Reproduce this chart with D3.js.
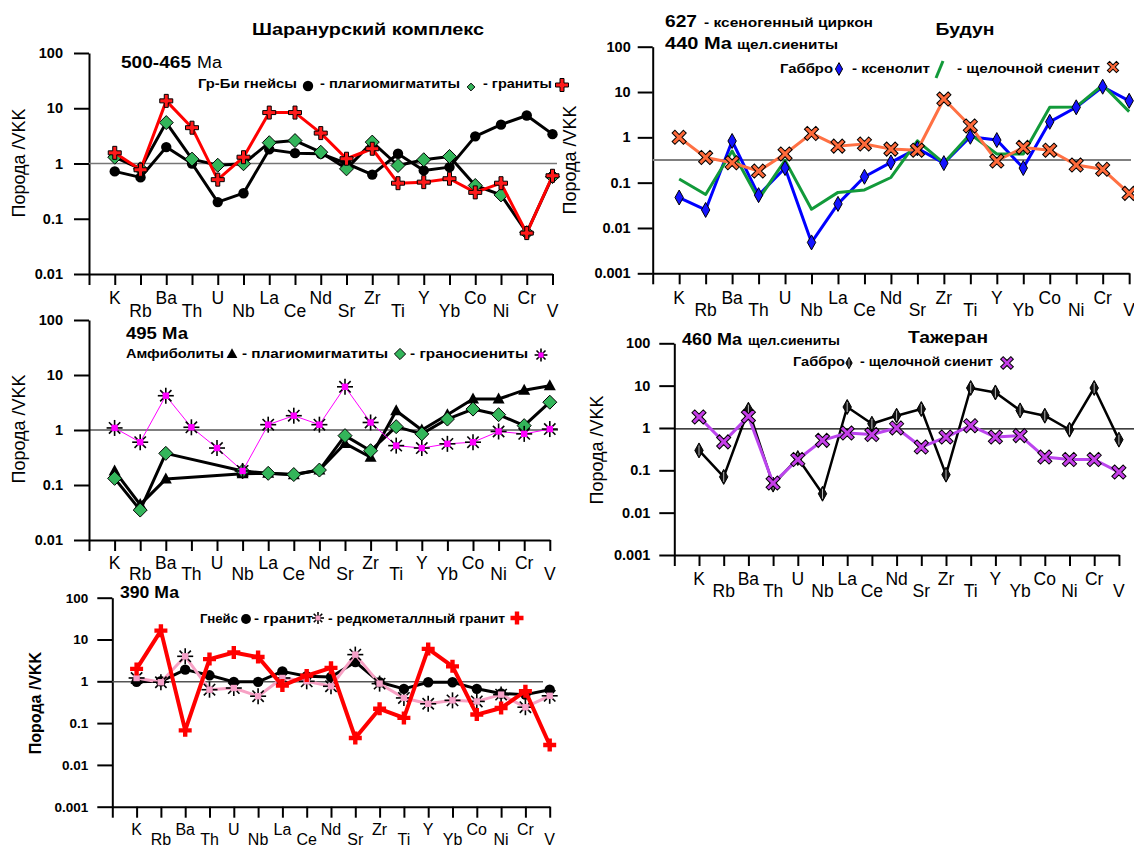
<!DOCTYPE html>
<html>
<head>
<meta charset="utf-8">
<script src="https://cdn.jsdelivr.net/npm/d3@7"></script>
<style>
  body { margin: 0; background: #fff; }
  svg { display: block; font-family: "Liberation Sans", Arial, sans-serif; }
</style>
</head>
<body>
<svg id="chart" width="1134" height="848"></svg>
<script>
// Spider diagrams normalised to upper continental crust (Порода / VKK)
const elements = ["K","Rb","Ba","Th","U","Nb","La","Ce","Nd","Sr","Zr","Ti","Y","Yb","Co","Ni","Cr","V"];
const ticks2 = [0.01, 0.1, 1, 10, 100];
const ticks3 = [0.001, 0.01, 0.1, 1, 10, 100];

// Шаранурский комплекс, 500-465 Ma
const sharGneiss   = [0.72,0.56,1.98,1.0,0.2,0.29,1.8,1.54,1.5,1.0,0.63,1.5,0.75,0.86,3.1,5.05,7.4,3.4];
const sharMigm     = [1.3,0.8,5.5,1.2,0.93,0.99,2.38,2.6,1.6,0.8,2.44,0.92,1.17,1.34,0.4,0.27,0.056,0.58];
const sharGranite  = [1.56,0.77,13.6,4.45,0.51,1.3,8.35,8.35,3.55,1.22,1.85,0.44,0.46,0.53,0.3,0.44,0.055,0.6];

// Будун, 627 / 440 Ma
const budunGabbro   = [0.047,0.025,0.83,0.053,0.21,0.0048,0.034,0.135,0.28,0.57,0.27,1.03,0.87,0.21,2.2,4.6,13.1,6.4];
const budunXenolith = [0.12,0.055,0.5,0.043,0.31,0.026,0.061,0.069,0.13,0.84,0.27,1.18,0.43,0.43,4.6,4.7,14.3,3.7];
const budunSyenite  = [1.0,0.36,0.275,0.18,0.43,1.22,0.64,0.71,0.55,0.52,7.0,1.78,0.30,0.6,0.52,0.245,0.197,0.058];

// 495 Ma (Th, U not determined for the first two groups)
const amphibolite  = [0.18,0.044,0.128,null,null,0.16,0.163,0.154,0.187,0.57,0.32,2.24,1.0,1.9,3.66,3.66,5.3,6.4];
const migm495      = [0.132,0.035,0.376,null,null,0.18,0.163,0.155,0.187,0.79,0.42,1.15,0.85,1.58,2.4,1.9,1.2,3.2];
const granosyenite = [1.09,0.6,4.2,1.12,0.47,0.18,1.25,1.82,1.25,6.1,1.37,0.52,0.47,0.56,0.6,0.94,0.85,1.04];

// Тажеран, 460 Ma
const tazhGabbro  = [0.295,0.07,2.7,0.046,0.195,0.028,3.13,1.26,1.95,2.8,0.079,8.8,6.9,2.6,1.95,0.91,8.8,0.53];
const tazhSyenite = [1.82,0.47,1.88,0.05,0.18,0.51,0.76,0.7,1.0,0.355,0.61,1.13,0.61,0.66,0.206,0.18,0.18,0.091];

// 390 Ma
const gneiss390    = [0.97,1.0,1.9,1.39,0.97,0.97,1.73,1.32,1.27,2.9,0.95,0.66,0.95,0.95,0.66,0.51,0.48,0.63];
const granite390   = [1.2,0.95,3.96,0.63,0.69,0.44,1.2,1.0,0.76,4.35,0.88,0.4,0.29,0.35,0.33,0.48,0.24,0.45];
const rareMetal390 = [1.98,16.3,0.067,3.4,4.9,3.8,0.79,1.37,2.1,0.044,0.22,0.133,5.96,2.28,0.16,0.23,0.58,0.03];

const svg = d3.select("#chart");

// ---------- marker shapes ----------
function plusPath(a, t) {
  return `M${-t},${-a}H${t}V${-t}H${a}V${t}H${t}V${a}H${-t}V${t}H${-a}V${-t}H${-t}Z`;
}
function diamondPath(w, h) { return `M0,${-h}L${w},0L0,${h}L${-w},0Z`; }

function drawMarker(g, type, x, y, k = 1) {
  const m = g.append("g").attr("transform", `translate(${x},${y})`);
  switch (type) {
    case "circle":
      m.append("circle").attr("r", 5.2 * k).attr("fill", "#000");
      break;
    case "greenDiamond":
      m.append("path").attr("d", diamondPath(7 * k, 7 * k))
        .attr("fill", "#33b55a").attr("stroke", "#000").attr("stroke-width", 1);
      break;
    case "redPlus":
      m.append("path").attr("d", plusPath(6.5 * k, 2 * k))
        .attr("fill", "#ff1a1a").attr("stroke", "#000").attr("stroke-width", 1);
      break;
    case "redPlusBold":
      m.append("path").attr("d", plusPath(6.5 * k, 2.2 * k)).attr("fill", "#ff0000");
      break;
    case "blueDiamond":
      m.append("path").attr("d", diamondPath(4.2 * k, 7.5 * k))
        .attr("fill", "#1414ff").attr("stroke", "#000").attr("stroke-width", 1);
      break;
    case "blackDiamond":
      m.append("path").attr("d", diamondPath(4.2 * k, 7.5 * k))
        .attr("fill", "#111").attr("stroke", "#000").attr("stroke-width", 1);
      m.append("path").attr("d", `M0,${-5 * k}V${5 * k}`)
        .attr("stroke", "#bbb").attr("stroke-width", 1);
      break;
    case "orangeX":
      m.append("path").attr("d", plusPath(8 * k, 2 * k)).attr("transform", "rotate(45)")
        .attr("fill", "#ff6a3a").attr("stroke", "#000").attr("stroke-width", 1);
      break;
    case "purpleX":
      m.append("path").attr("d", plusPath(8 * k, 2 * k)).attr("transform", "rotate(45)")
        .attr("fill", "#c53ee8").attr("stroke", "#000").attr("stroke-width", 1);
      break;
    case "triangle":
      m.append("path").attr("d", `M0,${-6.5 * k}L${6 * k},${4.5 * k}L${-6 * k},${4.5 * k}Z`).attr("fill", "#000");
      break;
    case "starMagenta":
    case "starPink": {
      const r = 8 * k;
      for (let i = 0; i < 4; i++) {
        const ang = i * Math.PI / 4;
        m.append("line")
          .attr("x1", -r * Math.cos(ang)).attr("y1", -r * Math.sin(ang))
          .attr("x2", r * Math.cos(ang)).attr("y2", r * Math.sin(ang))
          .attr("stroke", "#000").attr("stroke-width", 1.6);
      }
      const s = 3.2 * k;
      m.append("rect").attr("x", -s).attr("y", -s).attr("width", 2 * s).attr("height", 2 * s)
        .attr("fill", type === "starMagenta" ? "#ff00ff" : "#f5a0c8");
      break;
    }
  }
}

// ---------- one diagram ----------
function drawPanel(p) {
  const g = svg.append("g");
  const x = d3.scaleLinear().domain([-1, elements.length - 1])
    .range([p.axisX, p.axisX + p.step * elements.length]);
  const y = d3.scaleLog().domain([p.ticks[0], 100]).range([p.yBottom, p.yTop]);

  // axes
  const yAxis = d3.axisLeft(y).tickValues(p.ticks).tickSize(15).tickSizeOuter(0)
    .tickPadding(p.tickPad).tickFormat(d => String(d));
  const ya = g.append("g").attr("transform", `translate(${p.axisX},0)`).call(yAxis);
  ya.selectAll("text").attr("font-size", p.tickFont).attr("font-weight", "bold")
    .attr("font-family", "Liberation Sans, Arial, sans-serif").attr("fill", "#000");
  ya.selectAll("line,path").attr("stroke", "#000").attr("stroke-width", 2);

  const xAxis = d3.axisBottom(x).tickValues(d3.range(-1, elements.length))
    .tickSize(11).tickSizeOuter(0).tickFormat("");
  const xa = g.append("g").attr("transform", `translate(0,${p.yBottom})`).call(xAxis);
  xa.selectAll("line,path").attr("stroke", "#000").attr("stroke-width", 2);

  // element names, alternately staggered
  g.append("g").selectAll("text").data(elements).join("text")
    .attr("x", (d, i) => x(i))
    .attr("y", (d, i) => p.yBottom + (i % 2 === 0 ? p.highOff : p.lowOff))
    .attr("text-anchor", "middle").attr("font-size", p.elemFont).text(d => d);

  // reference level
  g.append("line")
    .attr("x1", p.axisX).attr("x2", p.refEnd)
    .attr("y1", y(p.ref)).attr("y2", y(p.ref))
    .attr("stroke", p.refColor).attr("stroke-width", p.refWidth);

  // axis title
  g.append("text")
    .attr("transform", `translate(${p.labelX},${p.labelY}) rotate(-90)`)
    .attr("text-anchor", "middle").attr("font-size", p.labelFont)
    .attr("font-weight", p.labelBold ? "bold" : "normal")
    .text("Порода /VKK");

  // series
  p.series.forEach(s => {
    const pts = s.values.map((v, i) => [i, v]).filter(d => d[1] != null);
    const line = d3.line().x(d => x(d[0])).y(d => y(d[1]));
    g.append("path").datum(pts).attr("d", line)
      .attr("fill", "none").attr("stroke", s.color).attr("stroke-width", s.width)
      .attr("stroke-linejoin", "round");
    if (s.marker) {
      const mg = g.append("g");
      pts.forEach(d => drawMarker(mg, s.marker, x(d[0]), y(d[1])));
    }
  });
  return g;
}

// caption text set to a given width (captions are drawn slightly wide)
function txt(x, y, t, size, bold, width, anchor) {
  return svg.append("text")
    .attr("x", x).attr("y", y)
    .attr("font-size", size)
    .attr("font-weight", bold ? "bold" : "normal")
    .attr("textLength", width).attr("lengthAdjust", "spacingAndGlyphs")
    .attr("text-anchor", anchor || "start").text(t);
}
const SMALL = 13.5;

// ---------- panel 1: Шаранурский комплекс ----------
drawPanel({
  axisX: 89, step: 25.75, yTop: 53, yBottom: 274, ticks: ticks2, tickPad: 11, tickFont: 14.5,
  elemFont: 17.5, highOff: 30, lowOff: 43, ref: 1, refEnd: 557, refColor: "#777", refWidth: 1.5,
  labelX: 25, labelY: 163, labelFont: 18, labelBold: false,
  series: [
    { values: sharGneiss, color: "#000", width: 3, marker: "circle" },
    { values: sharMigm, color: "#000", width: 3, marker: "greenDiamond" },
    { values: sharGranite, color: "#ff0000", width: 3, marker: "redPlus" }
  ]
});
txt(368, 35, "Шаранурский комплекс", 17, true, 232, "middle");
txt(121, 68, "500-465", 16, true, 70);
txt(197, 68, "Ма", 16, false, 25);
txt(198, 88, "Гр-Би гнейсы", SMALL, true, 99);
drawMarker(svg, "circle", 308, 86);
txt(320, 88, "- плагиомигматиты", SMALL, true, 140);
drawMarker(svg, "greenDiamond", 471, 87, 0.55);
txt(483, 88, "- граниты", SMALL, true, 69);
drawMarker(svg, "redPlus", 562, 85);

// ---------- panel 2: Будун ----------
drawPanel({
  axisX: 652.7, step: 26.47, yTop: 46.7, yBottom: 273.3, ticks: ticks3, tickPad: 7, tickFont: 14.5,
  elemFont: 17.5, highOff: 31, lowOff: 43, ref: 0.316, refEnd: 1131, refColor: "#808080", refWidth: 2,
  labelX: 576, labelY: 160, labelFont: 18, labelBold: false,
  series: [
    { values: budunGabbro, color: "#0000ff", width: 3, marker: null },
    { values: budunXenolith, color: "#129a3a", width: 3, marker: null },
    { values: budunGabbro, color: "none", width: 0, marker: "blueDiamond" },
    { values: budunSyenite, color: "#ff7043", width: 3, marker: "orangeX" }
  ]
});
txt(965, 35, "Будун", 17, true, 59, "middle");
txt(665, 27, "627", 17, true, 32);
txt(704, 27, "- ксеногенный циркон", SMALL, true, 169);
txt(665, 49, "440 Ма", 17, true, 67);
txt(737, 49, "щел.сиениты", SMALL, true, 101);
txt(780, 73, "Габбро", SMALL, true, 53);
drawMarker(svg, "blueDiamond", 839, 69, 0.85);
txt(852, 73, "- ксенолит", SMALL, true, 78);
svg.append("line").attr("x1", 936).attr("y1", 78).attr("x2", 943).attr("y2", 61)
  .attr("stroke", "#129a3a").attr("stroke-width", 3);
txt(957, 73, "- щелочной сиенит", SMALL, true, 143);
drawMarker(svg, "orangeX", 1113, 67, 0.8);

// ---------- panel 3: 495 Ma ----------
drawPanel({
  axisX: 89, step: 25.6, yTop: 320, yBottom: 540, ticks: ticks2, tickPad: 11, tickFont: 14.5,
  elemFont: 17.5, highOff: 29, lowOff: 40, ref: 1, refEnd: 558, refColor: "#000", refWidth: 1,
  labelX: 25, labelY: 429, labelFont: 18, labelBold: false,
  series: [
    { values: amphibolite, color: "#000", width: 3, marker: "triangle" },
    { values: migm495, color: "#000", width: 3, marker: "greenDiamond" },
    { values: granosyenite, color: "#ff00ff", width: 1, marker: "starMagenta" }
  ]
});
txt(126, 339, "495 Ма", 17, true, 62);
txt(126, 358, "Амфиболиты", SMALL, true, 98);
drawMarker(svg, "triangle", 232, 354, 0.9);
txt(242, 358, "- плагиомигматиты", SMALL, true, 146);
drawMarker(svg, "greenDiamond", 400, 354, 0.8);
txt(410, 358, "- граносиениты", SMALL, true, 118);
drawMarker(svg, "starMagenta", 541, 355, 0.8);

// ---------- panel 4: Тажеран ----------
drawPanel({
  axisX: 674.3, step: 24.7, yTop: 343.3, yBottom: 555, ticks: ticks3, tickPad: 9, tickFont: 14.5,
  elemFont: 17.5, highOff: 30, lowOff: 42, ref: 0.95, refEnd: 1134, refColor: "#000", refWidth: 1.2,
  labelX: 603, labelY: 450, labelFont: 18, labelBold: false,
  series: [
    { values: tazhGabbro, color: "#000", width: 2.5, marker: "blackDiamond" },
    { values: tazhSyenite, color: "#bb44ee", width: 3, marker: "purpleX" }
  ]
});
txt(948, 343, "Тажеран", 17, true, 80, "middle");
txt(682, 345, "460 Ма", 17, true, 60);
txt(748, 345, "щел.сиениты", SMALL, true, 92);
txt(793, 366, "Габбро", SMALL, true, 52);
drawMarker(svg, "blackDiamond", 849, 363, 0.75);
txt(860, 366, "- щелочной сиенит", SMALL, true, 133);
drawMarker(svg, "purpleX", 1007, 363, 0.9);

// ---------- panel 5: 390 Ma ----------
drawPanel({
  axisX: 112.3, step: 24.3, yTop: 597.7, yBottom: 806.7, ticks: ticks3, tickPad: 9, tickFont: 13.5,
  elemFont: 16, highOff: 28, lowOff: 38, ref: 0.97, refEnd: 543, refColor: "#555", refWidth: 1.5,
  labelX: 41, labelY: 703, labelFont: 16, labelBold: true,
  series: [
    { values: gneiss390, color: "#000", width: 3, marker: "circle" },
    { values: granite390, color: "#f7a1c4", width: 3, marker: "starPink" },
    { values: rareMetal390, color: "#ff0000", width: 4, marker: "redPlusBold" }
  ]
});
txt(120, 598, "390 Ма", 17, true, 59);
txt(200, 623, "Гнейс", SMALL, true, 38);
drawMarker(svg, "circle", 246, 619, 0.95);
txt(254, 623, "- гранит", SMALL, true, 59);
drawMarker(svg, "starPink", 318, 618, 0.75);
txt(328, 623, "- редкометаллный гранит", SMALL, true, 177);
drawMarker(svg, "redPlusBold", 517, 618);
</script>
</body>
</html>
